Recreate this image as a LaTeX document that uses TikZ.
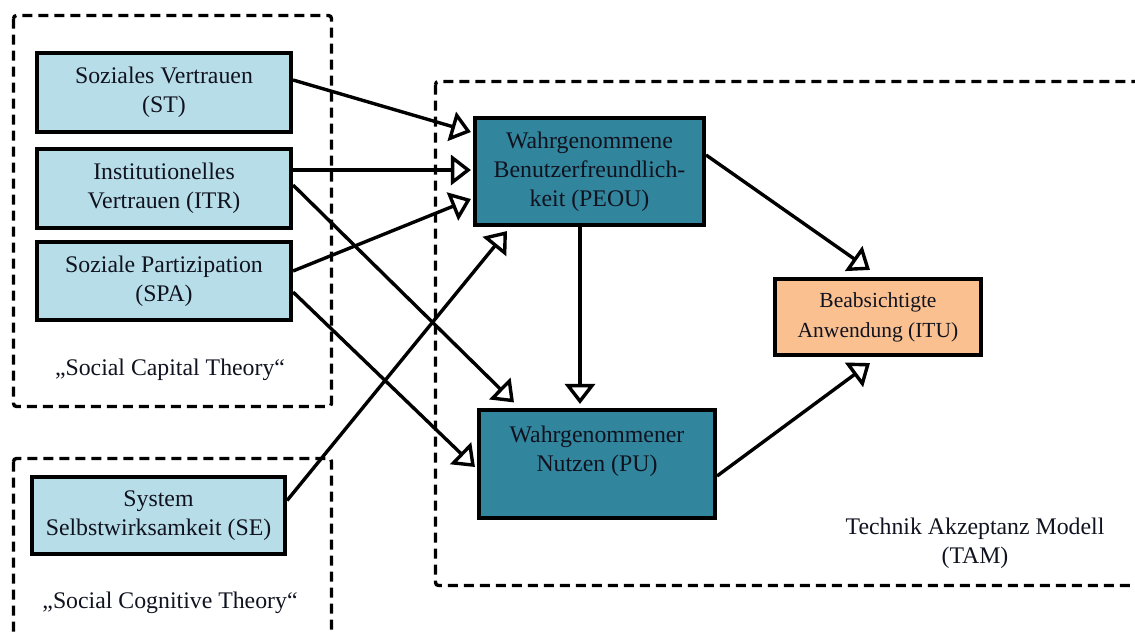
\documentclass[tikz,border=0pt]{standalone}
\usepackage{fontspec}
\setmainfont{Liberation Serif}
\usetikzlibrary{arrows.meta,calc}
\definecolor{boxlight}{HTML}{B7DEE8}
\definecolor{boxdark}{HTML}{31859C}
\definecolor{boxorange}{HTML}{FAC090}
\definecolor{ink}{HTML}{10131F}

\begin{document}
\begin{tikzpicture}[x=1pt,y=-1pt,
  every node/.style={font=\fontsize{23.8}{29}\selectfont, text=ink},
  construct/.style={draw=black, line width=3.6pt, align=center, inner sep=0pt},
  lightbox/.style={construct, fill=boxlight, minimum width=254.5pt, minimum height=79.5pt},
  darkbox/.style={construct, fill=boxdark},
  itubox/.style={construct, fill=boxorange, minimum width=206.5pt, minimum height=76.5pt,
    font=\fontsize{21.5}{30}\selectfont},
  caption/.style={align=center, inner sep=0pt},
  theory/.style={draw=black, line width=3.4pt, dash pattern=on 10pt off 6pt, rounded corners=3pt},
  link/.style={line width=3.4pt, -{Triangle[open, length=20pt, width=30pt, fill=white]}}
]
\useasboundingbox (0,0) rectangle (1135,633);
\clip (0,0) rectangle (1135,633);

% theory frames
\draw[theory] (13.5,15.5) rectangle (331.5,406.5);
\draw[theory] (13.5,458.5) rectangle (331.5,660);
\draw[theory] (435.5,81.5) rectangle (1160,585.5);

% constructs
\node[lightbox] (st)  at (164,92.5)  {Soziales Vertrauen\\(ST)};
\node[lightbox] (itr) at (164,188.5) {Institutionelles\\Vertrauen (ITR)};
\node[lightbox, minimum height=78.5pt] (spa) at (164,281) {Soziale Partizipation\\(SPA)};
\node[lightbox, minimum width=253.5pt, minimum height=77.5pt] (se) at (158.5,515.5) {System\\Selbstwirksamkeit (SE)};

\node[darkbox, minimum width=229.5pt, minimum height=107.5pt] (peou) at (589.5,171.5)
  {Wahrgenommene\\Benutzerfreundlich-\\keit (PEOU)};
\node[darkbox, minimum width=236.5pt, minimum height=108.5pt] (pu) at (597,464) {};
\node[caption] (putext) at ($(pu.center)+(0,-12.5)$) {Wahrgenommener\\Nutzen (PU)};

\node[itubox] (itu) at (878,317) {Beabsichtigte\\Anwendung (ITU)};

% frame captions
\node[caption] (sct)  at (170,370) {„Social Capital Theory“};
\node[caption] (scgt) at (170,603) {„Social Cognitive Theory“};
\node[caption] (tam)  at (975,543) {Technik Akzeptanz Modell\\(TAM)};

% relations
\draw[link] ($(st.east)+(0,-12.5)$)   -- ($(peou.west)+(-2,-39.5)$);
\draw[link] ($(itr.east)+(0,-18.5)$)  -- ($(peou.west)+(-2,-1.5)$);
\draw[link] ($(spa.east)+(0,-10)$)    -- ($(peou.west)+(-2,27.5)$);
\draw[link] ($(se.east)+(0,-15)$)     -- ($(peou.south)+(-82.5,4)$);
\draw[link] ($(itr.east)+(0,-3.5)$)   -- ($(pu.north)+(-83,-5.5)$);
\draw[link] ($(spa.east)+(0,11)$)     -- ($(pu.west)+(-2,3)$);
\draw[link] ($(peou.south)+(-9.5,0)$) -- ($(pu.north)+(-17,-4)$);
\draw[link] ($(peou.east)+(0,-16.5)$) -- ($(itu.north)+(-8,-7)$);
\draw[link] ($(pu.east)+(0,12)$)      -- ($(itu.south)+(-8,6)$);
\end{tikzpicture}
\end{document}
